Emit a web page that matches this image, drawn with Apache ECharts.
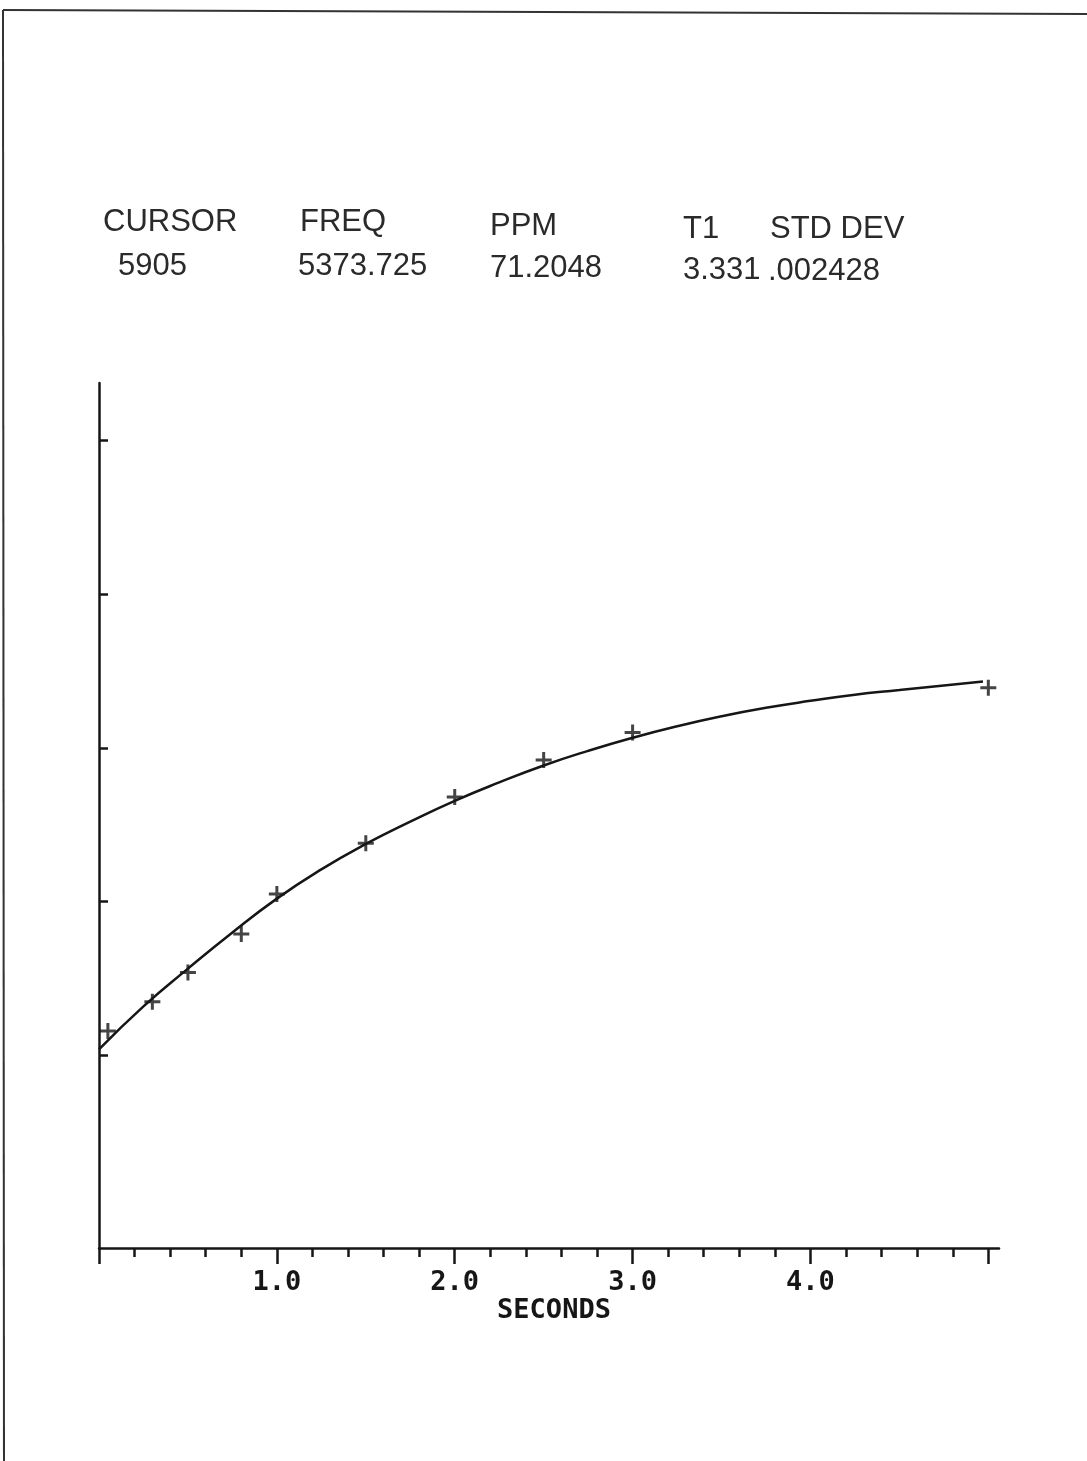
<!DOCTYPE html>
<html>
<head>
	<meta charset="utf-8"/>
	<title>T1 recovery</title>
	<style>
		* {
			margin: 0;
			padding: 0;
		}
		html, body {
			width: 100%;
			height: 100%;
			background: #fff;
		}
		.main {
			width: 1087px;
			height: 1461px;
		}
	</style>
</head>
<body>

	<div id="main" class="main"></div>

	<script src="https://cdn.jsdelivr.net/npm/echarts@6/dist/echarts.min.js"></script>
	<script>
		// measured points (+ marks)
		var pointTimes = [0.05, 0.3, 0.5, 0.8, 1.0, 1.5, 2.0, 2.5, 3.0, 5.0];
		var pointValues = [1.16, 1.35, 1.54, 1.79, 2.05, 2.38, 2.68, 2.92, 3.10, 3.39];

		// fitted curve
		var fitTimes = [0, 0.25, 0.5, 0.75, 1.0, 1.25, 1.5, 1.75, 2.0, 2.25, 2.5, 2.75, 3.0, 3.25, 3.5, 3.75, 4.0, 4.25, 4.5, 4.75, 4.97];
		var fitValues = [1.04, 1.32, 1.565, 1.8, 2.02, 2.21, 2.375, 2.52, 2.655, 2.775, 2.885, 2.98, 3.065, 3.14, 3.205, 3.26, 3.305, 3.345, 3.375, 3.405, 3.43];

		// axis ticks
		var majorTicks = [0, 1, 2, 3, 4, 5];
		var minorTicks = [0.2, 0.4, 0.6, 0.8, 1.2, 1.4, 1.6, 1.8, 2.2, 2.4, 2.6, 2.8, 3.2, 3.4, 3.6, 3.8, 4.2, 4.4, 4.6, 4.8];
		var xLabels = [1, 2, 3, 4];
		var yTicks = [1, 2, 3, 4, 5];

		// header block
		var headNames = ['CURSOR', 'FREQ', 'PPM', 'T1', 'STD DEV'];
		var headValues = ['5905', '5373.725', '71.2048', '3.331', '.002428'];

		var ink = '#161616';
		var headX = [103, 300, 490, 683, 770];
		var headX2 = [118, 298, 490, 683, 768];
		var headY = [222, 222, 226, 229, 229];
		var headY2 = [266, 266, 268, 270, 271];

		var graphics = [
			// scan border
			{ type: 'line', shape: { x1: 3, y1: 10, x2: 1087, y2: 14 }, style: { stroke: '#333', lineWidth: 2 } },
			{ type: 'line', shape: { x1: 3, y1: 10, x2: 4, y2: 1461 }, style: { stroke: '#333', lineWidth: 2 } }
		];
		headNames.forEach(function (t, i) {
			graphics.push({
				type: 'text', x: headX[i], y: headY[i],
				style: { text: t, font: '31px "Liberation Sans", Arial, sans-serif', fill: '#2a2a2a', verticalAlign: 'middle' }
			});
			graphics.push({
				type: 'text', x: headX2[i], y: headY2[i],
				style: { text: headValues[i], font: '31px "Liberation Sans", Arial, sans-serif', fill: '#2a2a2a', verticalAlign: 'middle' }
			});
		});

		var plotFont = {
			fontFamily: '"DejaVu Sans Mono", monospace',
			fontWeight: 'bold',
			fontSize: 27,
			color: ink
		};

		var myChart = echarts.init(document.getElementById('main'));

		var option = {
			animation: false,
			backgroundColor: '#fff',
			grid: {
				left: 99,
				right: 88,
				top: 383,
				bottom: 213
			},
			xAxis: [{
				type: 'value',
				min: 0,
				max: 5.06,
				position: 'bottom',
				name: 'SECONDS',
				nameLocation: 'middle',
				nameGap: 49,
				nameMoveOverlap: false,
				nameTextStyle: Object.assign({ padding: [0, 0, 0, 10] }, plotFont),
				axisLine: { onZero: false, lineStyle: { color: ink, width: 2.5 } },
				axisTick: { show: true, length: 16, customValues: majorTicks, lineStyle: { color: ink, width: 2.5 } },
				axisLabel: Object.assign({
					customValues: xLabels,
					margin: 21,
					formatter: function (v) { return v.toFixed(1); }
				}, plotFont),
				splitLine: { show: false }
			}, {
				type: 'value',
				min: 0,
				max: 5.06,
				position: 'bottom',
				axisLine: { show: false, onZero: false },
				axisTick: { show: true, length: 9, customValues: minorTicks, lineStyle: { color: ink, width: 2.5 } },
				axisLabel: { show: false },
				splitLine: { show: false }
			}],
			yAxis: {
				type: 'value',
				min: -0.25,
				max: 5.37,
				axisLine: { show: true, onZero: false, lineStyle: { color: ink, width: 2.5 } },
				axisTick: { show: true, inside: true, length: 9, customValues: yTicks, lineStyle: { color: ink, width: 2.5 } },
				axisLabel: { show: false },
				splitLine: { show: false }
			},
			series: [{
				type: 'line',
				xAxisIndex: 0,
				smooth: true,
				symbol: 'none',
				lineStyle: { color: ink, width: 2.5 },
				data: fitTimes.map(function (t, i) { return [t, fitValues[i]]; }),
				z: 2
			}, {
				type: 'scatter',
				xAxisIndex: 0,
				symbol: 'path://M0,8L16,8M8,0L8,16',
				symbolSize: 16,
				itemStyle: { color: 'none', borderColor: ink, borderWidth: 3 },
				data: pointTimes.map(function (t, i) { return [t, pointValues[i]]; }),
				z: 3
			}],
			graphic: graphics
		};

		myChart.setOption(option);
	</script>
</body>
</html>
